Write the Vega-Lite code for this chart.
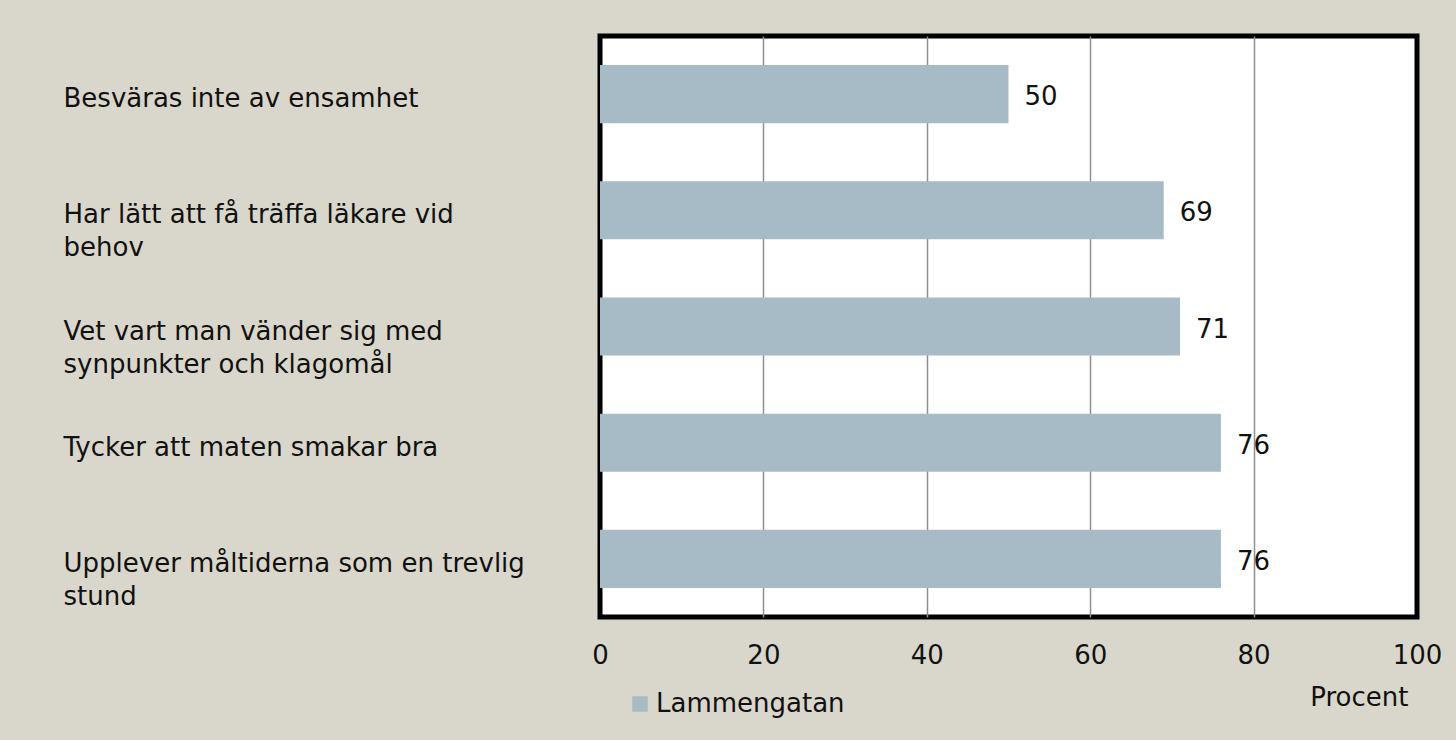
{
  "$schema": "https://vega.github.io/schema/vega-lite/v6.json",
  "width": 817,
  "height": 581,
  "autosize": {"type": "none"},
  "padding": {"left": 600, "top": 36, "right": 39, "bottom": 123},
  "background": "#d9d7cb",
  "data": {
    "values": [
      {"item": "Besväras inte av ensamhet", "value": 50, "series": "Lammengatan"},
      {"item": "Har lätt att få träffa läkare vid|behov", "value": 69, "series": "Lammengatan"},
      {"item": "Vet vart man vänder sig med|synpunkter och klagomål", "value": 71, "series": "Lammengatan"},
      {"item": "Tycker att maten smakar bra", "value": 76, "series": "Lammengatan"},
      {"item": "Upplever måltiderna som en trevlig|stund", "value": 76, "series": "Lammengatan"}
    ]
  },
  "encoding": {
    "y": {
      "field": "item",
      "type": "nominal",
      "sort": null,
      "scale": {"paddingInner": 0.5, "paddingOuter": 0.25},
      "axis": {
        "title": null,
        "domain": false,
        "ticks": false,
        "tickSize": 0,
        "grid": false,
        "labelAlign": "left",
        "labelBaseline": "alphabetic",
        "labelOffset": 13,
        "labelPadding": 537,
        "labelLimit": 530,
        "labelFontSize": 26,
        "labelLineHeight": 33,
        "labelColor": "#111111",
        "labelFont": "DejaVu Sans",
        "labelExpr": "split(datum.label, '|')"
      }
    },
    "x": {
      "field": "value",
      "type": "quantitative",
      "scale": {"domain": [0, 100]},
      "axis": {
        "values": [0, 20, 40, 60, 80, 100],
        "domain": false,
        "ticks": false,
        "tickSize": 0,
        "labelFlush": false,
        "labelPadding": 25,
        "labelFontSize": 26,
        "labelColor": "#111111",
        "labelFont": "DejaVu Sans",
        "grid": true,
        "gridColor": "#8f8f8f",
        "gridWidth": 1.5,
        "gridOpacity": {"condition": {"test": "datum.value == 0 || datum.value == 100", "value": 0}, "value": 1},
        "title": "Procent",
        "titleFont": "DejaVu Sans",
        "titleFontSize": 26,
        "titleFontWeight": "normal",
        "titleColor": "#111111",
        "titleX": 808,
        "titleY": 88,
        "titleAlign": "right",
        "titleBaseline": "alphabetic"
      }
    }
  },
  "layer": [
    {
      "mark": {"type": "bar"},
      "encoding": {
        "color": {
          "field": "series",
          "type": "nominal",
          "scale": {"range": ["#a7bbc6"]},
          "legend": {
            "title": null,
            "orient": "none",
            "legendX": 27,
            "legendY": 655,
            "symbolType": "square",
            "symbolSize": 240,
            "symbolStrokeWidth": 0,
            "symbolOpacity": 1,
            "labelFontSize": 26,
            "labelFont": "DejaVu Sans",
            "labelColor": "#111111",
            "labelOffset": 3,
            "labelLimit": 400,
            "padding": 0
          }
        }
      }
    },
    {
      "mark": {"type": "text", "align": "left", "baseline": "alphabetic", "dx": 16, "dy": 11, "fontSize": 26, "font": "DejaVu Sans", "color": "#111111"},
      "encoding": {"text": {"field": "value", "type": "quantitative"}}
    }
  ],
  "config": {
    "view": {"stroke": "#000000", "strokeWidth": 5, "fill": "#ffffff"},
    "font": "DejaVu Sans"
  }
}
